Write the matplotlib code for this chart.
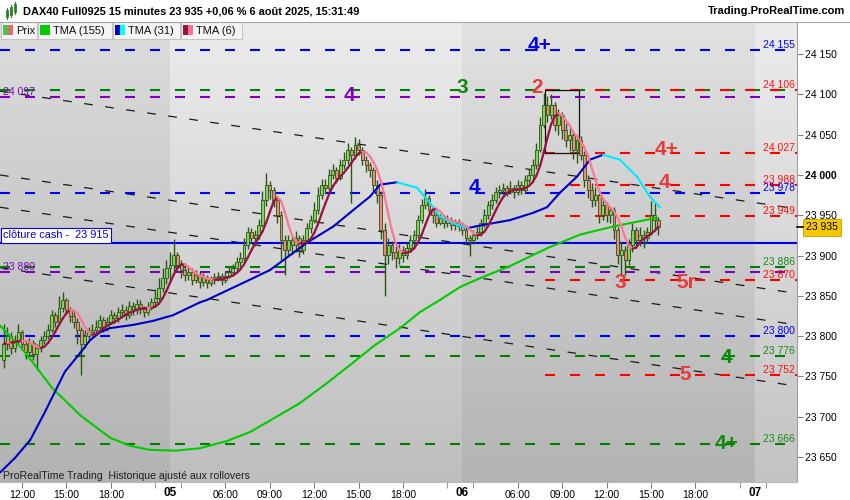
import matplotlib
matplotlib.use("Agg")
import matplotlib.pyplot as plt
import matplotlib.transforms as mtransforms
from matplotlib.collections import LineCollection
from matplotlib.patches import Rectangle
import numpy as np
import pandas as pd

plt.rcParams['font.family'] = ['Liberation Sans', 'DejaVu Sans']

# ---------------- data (15 min bars, index 0 = 4 Aug 10:45) ----------------
first_open = 23770
closes = [
    # 04
    23790, 23800, 23785, 23795, 23805, 23790, 23780, 23792, 23778, 23785,
    23795, 23800, 23808, 23826, 23818, 23835, 23845, 23832, 23825, 23818,
    23808, 23790, 23800, 23805, 23808, 23812, 23820, 23810, 23818, 23826,
    23822, 23830, 23833, 23826, 23838, 23832, 23840, 23834, 23830, 23836,
    23842, 23848, 23860, 23872, 23885,
    # 05
    23888, 23901, 23888, 23882, 23876, 23880, 23870, 23876, 23867, 23873,
    23866, 23870, 23873, 23875, 23870, 23875, 23880, 23884, 23892, 23897,
    23913, 23929, 23922, 23926, 23938, 23969, 23988, 23981, 23969, 23950,
    23919, 23907, 23919, 23913, 23922, 23907, 23919, 23934, 23944, 23957,
    23975, 23988, 23984, 24000, 24006, 23996, 24012, 24019, 24031, 24025,
    24037, 24031, 24019, 24012, 24006, 23988, 23975, 23932, 23901, 23913,
    23904, 23897, 23907, 23901, 23910, 23919, 23926, 23944, 23963, 23972,
    23957, 23950, 23941, 23947, 23941, 23944, 23938, 23941, 23937,
    # 06
    23932, 23922, 23919, 23926, 23929, 23941, 23950, 23963, 23969, 23979,
    23981, 23984, 23979, 23984, 23979, 23988, 23981, 23994, 24000, 24012,
    24031, 24062, 24087, 24074, 24087, 24062, 24074, 24056, 24043, 24050,
    24031, 24043, 24025, 23994, 23981, 23969, 23975, 23950, 23963, 23950,
    23957, 23932, 23901, 23907, 23895, 23913, 23932, 23919, 23926, 23922,
    23929, 23950, 23944, 23935,
]
highs = [
    23815, 23812, 23805, 23802, 23815, 23808, 23795, 23798, 23795, 23790,
    23800, 23806, 23815, 23832, 23830, 23850, 23855, 23848, 23836, 23830,
    23822, 23812, 23808, 23812, 23815, 23820, 23826, 23824, 23824, 23832,
    23830, 23836, 23840, 23838, 23844, 23842, 23846, 23845, 23838, 23842,
    23848, 23858, 23872, 23885, 23895,
    23905, 23920, 23905, 23895, 23888, 23886, 23884, 23882, 23880, 23878,
    23876, 23875, 23878, 23880, 23878, 23880, 23886, 23890, 23898, 23905,
    23922, 23935, 23934, 23932, 23946, 23980, 24003, 23992, 23985, 23972,
    23955, 23925, 23926, 23924, 23930, 23925, 23926, 23940, 23950, 23966,
    23985, 23995, 23995, 24008, 24014, 24010, 24020, 24028, 24040, 24035,
    24047, 24045, 24035, 24024, 24016, 24010, 23994, 23980, 23940, 23922,
    23918, 23912, 23914, 23912, 23916, 23925, 23932, 23950, 23970, 23983,
    23975, 23962, 23955, 23952, 23950, 23950, 23948, 23946, 23945,
    23942, 23935, 23926, 23932, 23935, 23946, 23958, 23968, 23976, 23985,
    23988, 23990, 23988, 23992, 23988, 23994, 23992, 24000, 24008, 24020,
    24040, 24072, 24102, 24098, 24100, 24090, 24082, 24078, 24065, 24060,
    24055, 24050, 24048, 24030, 24000, 23990, 23985, 23978, 23970, 23966,
    23962, 23960, 23935, 23918, 23912, 23920, 23940, 23936, 23935, 23932,
    23935, 23968, 23966, 23948,
]
lows = [
    23760, 23783, 23778, 23780, 23790, 23785, 23772, 23776, 23770, 23758,
    23780, 23790, 23796, 23805, 23812, 23815, 23830, 23828, 23818, 23810,
    23790, 23752, 23785, 23795, 23800, 23802, 23808, 23805, 23806, 23815,
    23816, 23818, 23825, 23820, 23822, 23826, 23828, 23828, 23824, 23826,
    23832, 23838, 23845, 23855, 23865,
    23870, 23880, 23882, 23872, 23868, 23870, 23864, 23866, 23860, 23862,
    23860, 23862, 23865, 23868, 23864, 23866, 23872, 23876, 23880, 23886,
    23893, 23908, 23915, 23912, 23920, 23935, 23962, 23970, 23960, 23940,
    23895, 23876, 23900, 23902, 23905, 23898, 23902, 23915, 23928, 23940,
    23952, 23970, 23976, 23980, 23995, 23990, 23994, 24008, 24014, 23965,
    24020, 24025, 24012, 24004, 23998, 23980, 23965, 23920, 23850, 23890,
    23895, 23885, 23890, 23892, 23896, 23905, 23912, 23922, 23940, 23958,
    23950, 23940, 23935, 23938, 23934, 23936, 23932, 23932, 23930,
    23925, 23915, 23900, 23914, 23920, 23924, 23936, 23945, 23958, 23965,
    23972, 23975, 23974, 23976, 23972, 23975, 23976, 23978, 23990, 23995,
    24008, 24028, 24058, 24066, 24070, 24055, 24050, 24045, 24035, 24030,
    24020, 24015, 24018, 23985, 23972, 23960, 23962, 23940, 23944, 23942,
    23940, 23920, 23890, 23875, 23876, 23888, 23905, 23910, 23912, 23910,
    23915, 23925, 23932, 23926,
]

# TMA(31) and TMA(155): (bar index, price)
tma31_bar = [-0.9, 3.1, 7.2, 11.2, 13.9, 16.6, 20.7, 23.4, 26.1, 28.8, 35.0, 40.4,
             45.8, 53.1, 55.0, 64.7, 72.0, 78.2, 82.0, 89.1, 93.6, 99.0, 101.8,
             106.4, 111.8, 115.3, 118.0, 122.6, 125.3, 129.6, 136.9, 143.1, 146.9,
             150.4, 155.0, 158.5, 162.0, 166.6, 171.2, 174.7, 177.4]
tma31_val = [23631, 23649, 23671, 23706, 23731, 23756, 23779, 23795, 23805, 23810,
             23814, 23819, 23826, 23842, 23845, 23866, 23882, 23903, 23916, 23936,
             23953, 23973, 23988, 23991, 23984, 23965, 23948, 23938, 23934, 23938,
             23944, 23953, 23960, 23978, 23998, 24019, 24025, 24019, 23998, 23973,
             23960]
tma155_bar = [-0.9, 4.5, 8.0, 13.1, 20.7, 28.8, 34.2, 39.6, 46.4, 53.1, 60.4, 66.6,
              73.4, 80.1, 86.9, 93.6, 100.4, 107.2, 112.6, 118.0, 123.4, 128.8,
              136.9, 146.9, 155.8, 164.7, 171.2, 176.6]
tma155_val = [23813, 23787, 23767, 23736, 23702, 23674, 23664, 23659, 23658, 23661,
              23670, 23681, 23699, 23717, 23740, 23764, 23789, 23810, 23830, 23845,
              23861, 23872, 23887, 23909, 23926, 23936, 23942, 23947]

blue_levels = [24155, 23978, 23800]
green_levels = [24106, 23886, 23776, 23666]
purple_levels = [24097, 23880]
red_levels = [24106, 24027, 23988, 23949, 23870, 23752]
red_start_bar = 146.4
cash_close = 23915
last_price = 23935

trend_start = [24104, 24000, 23960, 23885]
trend_end = [23958, 23853, 23814, 23738]

wave_text = ["4+", "3", "4", "2", "4+", "4", "4", "3", "5r", "4", "5", "4+"]
wave_bar = [145.0, 123.9, 93.6, 144.2, 179.3, 178.5, 127.2, 166.6, 184.5, 195.5, 184.2, 195.5]
wave_price = [24161, 24108, 24099, 24108, 24031, 23991, 23985, 23866, 23867, 23774, 23752, 23667]
wave_kind = ["blue", "green", "purple", "red", "red", "red", "blue", "red", "red", "green", "red", "green"]

day_starts = [-34, 45, 124, 203]
day_names = ["04", "05", "06", "07"]

# ---------------- styling ----------------
W, H = 850, 500
XMIN, XMAX = -0.946, 214.46
YMIN, YMAX = 23619.1, 24189.8
lvl_col = {"blue": "#0000ff", "green": "#008000", "purple": "#8000c0", "red": "#ff0000"}
lbl_col = {"blue": "#0000ee", "green": "#0a8a0a", "purple": "#8000c0", "red": "#e83a3a"}
dash = (0, (4.8, 7.2))

fig = plt.figure(figsize=(8.5, 5), dpi=100)
ax = fig.add_axes([0, (H - 482) / H, 797 / W, (482 - 22) / H])
ax.set_xlim(XMIN, XMAX)
ax.set_ylim(YMIN, YMAX)

# background: one vertical gradient per session
shades = [((0.865, 0.865, 0.865), (0.70, 0.70, 0.70)),
          ((0.925, 0.925, 0.925), (0.745, 0.745, 0.745)),
          ((0.885, 0.885, 0.885), (0.705, 0.705, 0.705)),
          ((0.925, 0.925, 0.925), (0.765, 0.765, 0.765))]
bounds = [XMIN] + day_starts[1:] + [XMAX]
t = np.linspace(0, 1, 256)[:, None, None]
for (top, bot), x0, x1 in zip(shades, bounds[:-1], bounds[1:]):
    g = np.array(top)[None, None, :] * (1 - t) + np.array(bot)[None, None, :] * t
    ax.imshow(g, extent=[x0, x1, YMIN, YMAX], aspect='auto', origin='upper', zorder=0)

# trend channel lines
for p0, p1 in zip(trend_start, trend_end):
    ax.plot([XMIN, XMAX], [p0, p1], color='#1a1a1a', lw=0.9, ls=(0, (7, 10)), zorder=1)

# horizontal levels
for kind, lv in [("green", green_levels), ("purple", purple_levels), ("blue", blue_levels)]:
    for p in lv:
        ax.plot([XMIN, XMAX], [p, p], color=lvl_col[kind], lw=1.5, ls=dash, zorder=2)
for p in red_levels:
    ax.plot([red_start_bar, XMAX], [p, p], color=lvl_col["red"], lw=1.5, ls=dash, zorder=2.1)
ax.plot([XMIN, XMAX], [cash_close, cash_close], color='#0000ee', lw=1.5, zorder=2.2)

# box around the top
ax.add_patch(Rectangle((red_start_bar, 24027), 155.5 - red_start_bar, 24106 - 24027,
                       fill=False, ec='#111111', lw=0.9, zorder=2.3))

# candles
c = np.array(closes, dtype=float)
o = np.concatenate([[first_open], c[:-1]])
hi = np.maximum(np.array(highs, dtype=float), np.maximum(o, c))
lo = np.minimum(np.array(lows, dtype=float), np.minimum(o, c))
k = np.arange(len(c))
up = c >= o
edge = '#2b5516'
ax.vlines(k, lo, hi, color=edge, lw=1.0, zorder=3)
ax.bar(k, np.maximum(np.abs(c - o), 1.2), bottom=np.minimum(o, c), width=0.8,
       color=np.where(up, '#7cd655', '#f0897a'), edgecolor=edge, linewidth=0.6, zorder=3.1)


def two_tone(x, y, rise, fall, lw, z):
    x = np.asarray(x, float)
    y = np.asarray(y, float)
    pts = np.column_stack([x, y])
    segs = np.stack([pts[:-1], pts[1:]], axis=1)
    cols = [rise if b >= a else fall for a, b in zip(y[:-1], y[1:])]
    ax.add_collection(LineCollection(segs, colors=cols, linewidths=lw, zorder=z,
                                     capstyle='round', joinstyle='round'))


# TMA(155)
ax.plot(tma155_bar, tma155_val, color='#00cc00', lw=1.5, zorder=4, solid_capstyle='round')
# TMA(31)
two_tone(tma31_bar, tma31_val, '#0000c8', '#00e8ff', 1.5, 4.1)
# TMA(6) from closes
tma6 = pd.Series(c).rolling(3, min_periods=1).mean().rolling(4, min_periods=1).mean().values
two_tone(k, tma6, '#9a1040', '#ff7595', 1.6, 4.2)

# wave labels
for txt, xb, yp, kind in zip(wave_text, wave_bar, wave_price, wave_kind):
    ax.text(xb, yp, txt, color=lbl_col[kind], fontsize=15, fontweight='bold',
            ha='center', va='center', zorder=6)


def fmt(v):
    return f"{int(round(v)):,}".replace(",", " ")


# right-hand level values
right_lbls = ([(p, "red") for p in red_levels] + [(p, "green") for p in green_levels[1:]]
              + [(p, "blue") for p in blue_levels])
rcol = {"red": "#ff1010", "green": "#1a8a1a", "blue": "#0000ff"}
for p, kind in right_lbls:
    ax.annotate(fmt(p), (213.9, p), xytext=(0, 0), textcoords='offset points',
                ha='right', va='bottom', fontsize=7.5, color=rcol[kind], zorder=6)
for p in purple_levels:
    ax.annotate(fmt(p), (XMIN, p), xytext=(2, 0), textcoords='offset points',
                ha='left', va='bottom', fontsize=7.5, color='#8000c0', zorder=6)
ax.annotate("clôture cash -  " + fmt(cash_close), (XMIN, cash_close), xytext=(2.5, 2.2),
            textcoords='offset points', ha='left', va='bottom', fontsize=7.9, color='#0000e0',
            zorder=7, bbox=dict(boxstyle='square,pad=0.2', fc='white', ec='#0000ff', lw=0.8))

# axes
for s in ['top', 'left']:
    ax.spines[s].set_visible(False)
ax.spines['right'].set_color('#a0a0a0')
ax.spines['bottom'].set_color('#b8b8b8')
ax.yaxis.tick_right()
yt = np.arange(23650, 24151, 50)
ax.set_yticks(yt, [fmt(v) for v in yt])
for lab, v in zip(ax.get_yticklabels(), yt):
    if v == 24000:
        lab.set_fontweight('bold')
        lab.set_fontsize(8.5)
ax.tick_params(axis='y', direction='out', length=4, pad=2, labelsize=7.5, color='#808080')

maj_pos, maj_lab, min_pos = [], [], []
for d0 in day_starts:
    for h in range(3, 22, 3):
        pos = d0 + (h - 2.25) * 4
        if not (XMIN <= pos <= XMAX):
            continue
        if h in (3, 21):
            min_pos.append(pos)
        else:
            maj_pos.append(pos)
            maj_lab.append(f"{h:02d}:00")
ax.set_xticks(maj_pos, maj_lab)
ax.set_xticks(min_pos, minor=True)
ax.tick_params(axis='x', which='both', direction='out', length=4, pad=2, labelsize=7.5,
               color='#808080')
btrans = mtransforms.blended_transform_factory(ax.transData, ax.transAxes)
for d0, name in zip(day_starts, day_names):
    if XMIN < d0 < XMAX:
        ax.text(d0, -11 / 460, name, transform=btrans, ha='center', va='center',
                fontsize=8.5, fontweight='bold', clip_on=False)

# last price marker
ytrans = mtransforms.blended_transform_factory(ax.transAxes, ax.transData)
ax.plot([1.0, 1.0075], [last_price, last_price], color='black', lw=1.2,
        transform=ytrans, clip_on=False, zorder=8)
ax.annotate(fmt(last_price), (1.0, last_price), xycoords=ytrans, xytext=(6.8, 0),
            textcoords='offset points', ha='left', va='center', fontsize=7.5, color='black',
            annotation_clip=False,
            bbox=dict(boxstyle='square,pad=0.3', fc='#f7c800', ec='#c89a00', lw=0.6))

# ---------------- header / legend overlay (pixel coordinates) ----------------
ov = fig.add_axes([0, 0, 1, 1], zorder=10)
ov.set_xlim(0, W)
ov.set_ylim(H, 0)
ov.axis('off')
ov.patch.set_alpha(0)
ov.plot([0, W], [21.5, 21.5], color='#a8a8a8', lw=0.8)
# small candlestick icon
for xi, y0, y1 in [(6, 10, 17), (10, 7, 15), (14, 4, 12)]:
    ov.plot([xi + 1, xi + 1], [y0 - 2, y1 + 2], color='#2e7d32', lw=0.8)
    ov.add_patch(Rectangle((xi, y0), 2.2, y1 - y0, fc='#5fbf3f', ec='#2e7d32', lw=0.6))
ov.text(23, 11, "DAX40 Full0925 15 minutes 23 935 +0,06 % 6 août 2025, 15:31:49",
        fontsize=7.9, fontweight='bold', va='center', ha='left')
ov.text(845, 11, "Trading.ProRealTime.com", fontsize=8.0, fontweight='bold',
        va='center', ha='right')

legend_items = [(1, 37, "Prix", ['#4cc24c', '#e06a6a']),
                (38, 112, "TMA (155)", ['#00cc00', '#00cc00']),
                (113, 180, "TMA (31)", ['#0000c8', '#00ffff']),
                (181, 242, "TMA (6)", ['#9a1040', '#ff6f95'])]
for x0, x1, name, cols in legend_items:
    ov.add_patch(Rectangle((x0, 21.5), x1 - x0, 17.5, fc='#f4f4f4', ec='#c4c4c4', lw=0.8))
    ov.add_patch(Rectangle((x0 + 2.5, 25), 5, 10, fc=cols[0], ec='none'))
    ov.add_patch(Rectangle((x0 + 7.5, 25), 5, 10, fc=cols[1], ec='none'))
    ov.text(x0 + 15, 30.5, name, fontsize=8.0, va='center', ha='left', color='#111111')

ov.text(3, 476, "ProRealTime Trading  Historique ajusté aux rollovers", fontsize=7.6,
        va='center', ha='left', color='#202020')

fig.savefig("out.png", dpi=100)
